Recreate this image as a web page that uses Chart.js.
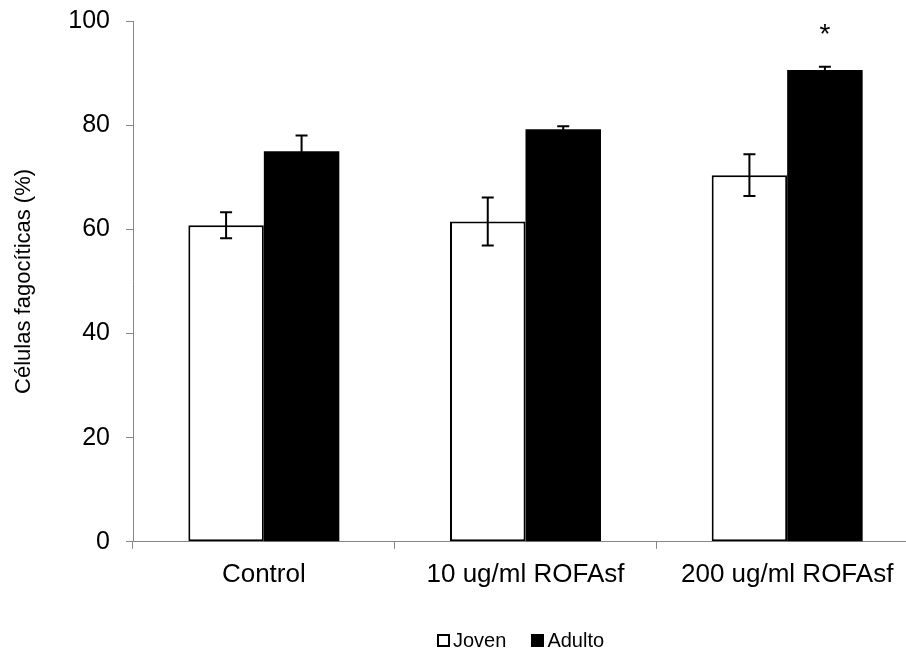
<!DOCTYPE html>
<html>
<head>
<meta charset="utf-8">
<script src="https://cdn.jsdelivr.net/npm/chart.js@4"></script>
<style>
  html, body { margin: 0; padding: 0; background: #fff; overflow: hidden; }
  #wrap { position: relative; top: -10px; width: 930px; height: 660px; }
  #legend {
    position: absolute; top: 640px; left: 437px;
    font: 20px "Liberation Sans", Arial, sans-serif; line-height: 20px; color: #000;
    display: flex; align-items: center; white-space: nowrap;
  }
  #legend .item { display: flex; align-items: center; margin-right: 25px; }
  #legend .box { width: 13px; height: 13px; box-sizing: border-box; border: 2px solid #000; margin-right: 3px; }
</style>
</head>
<body>
<div id="wrap">
  <canvas id="chart"></canvas>
  <div id="legend">
    <div class="item"><span class="box" style="background:#fff"></span>Joven</div>
    <div class="item"><span class="box" style="background:#000"></span>Adulto</div>
  </div>
</div>
<script>
// ========== Data ==========
const categories = ["Control", "10 ug/ml ROFAsf", "200 ug/ml ROFAsf"];
const jovenValues = [60.8, 61.5, 70.4];
const jovenErrors = [2.5, 4.6, 4.0];
const adultoValues = [75.0, 79.2, 90.6];
const adultoErrors = [3.0, 0.6, 0.6];
const markers = [["", "", ""], ["", "", "*"]]; // significance marks per dataset
const yMin = 0, yMax = 100, yStep = 20;

const FONT = "'Liberation Sans', Arial, sans-serif";
const errors = [jovenErrors, adultoErrors];

// ========== Error bars + asterisk ==========
const errorBars = {
  id: "errorBars",
  afterDatasetsDraw(chart) {
    const ctx = chart.ctx;
    const y = chart.scales.y;
    ctx.save();
    ctx.strokeStyle = "#000";
    ctx.lineWidth = 2;
    chart.data.datasets.forEach((ds, i) => {
      const meta = chart.getDatasetMeta(i);
      meta.data.forEach((bar, j) => {
        const v = ds.data[j], e = errors[i][j];
        const top = y.getPixelForValue(v + e);
        const bot = y.getPixelForValue(v - e);
        ctx.beginPath();
        ctx.moveTo(bar.x, top); ctx.lineTo(bar.x, bot);
        ctx.moveTo(bar.x - 6, top); ctx.lineTo(bar.x + 6, top);
        ctx.moveTo(bar.x - 6, bot); ctx.lineTo(bar.x + 6, bot);
        ctx.stroke();
        if (markers[i][j]) {
          ctx.fillStyle = "#000";
          ctx.font = "28px " + FONT;
          ctx.textAlign = "center";
          ctx.textBaseline = "alphabetic";
          ctx.fillText(markers[i][j], bar.x, top - 24);
        }
      });
    });
    ctx.restore();
  }
};

// ========== Chart ==========
new Chart(document.getElementById("chart"), {
  type: "bar",
  data: {
    labels: categories,
    datasets: [
      { label: "Joven", data: jovenValues, backgroundColor: "#fff", borderColor: "#000",
        borderWidth: 2, borderSkipped: false },
      { label: "Adulto", data: adultoValues, backgroundColor: "#000", borderColor: "#000",
        borderWidth: 0 },
    ],
  },
  options: {
    responsive: true,
    maintainAspectRatio: false,
    animation: false,
    datasets: { bar: { barPercentage: 1, categoryPercentage: 0.577 } },
    layout: { padding: { top: 11, right: 12, bottom: 50, left: 0 } },
    plugins: { legend: { display: false }, tooltip: { enabled: false } },
    scales: {
      x: {
        grid: { display: true, drawOnChartArea: false, tickLength: 7, color: "#868686", offset: true },
        border: { display: true, color: "#868686", width: 1 },
        ticks: { color: "#000", font: { family: FONT, size: 26 }, padding: 10, maxRotation: 0 },
      },
      y: {
        min: yMin, max: yMax,
        afterFit: (s) => { s.width = 133; },
        grid: { display: true, drawOnChartArea: false, tickLength: 7, color: "#868686" },
        border: { display: true, color: "#868686", width: 1 },
        ticks: { stepSize: yStep, color: "#000", font: { family: FONT, size: 25 }, padding: 16 },
        title: { display: true, text: "Células fagocíticas (%)", color: "#000",
          font: { family: FONT, size: 22 }, padding: { top: 11, bottom: 0 } },
      },
    },
  },
  plugins: [errorBars],
});
</script>
</body>
</html>
